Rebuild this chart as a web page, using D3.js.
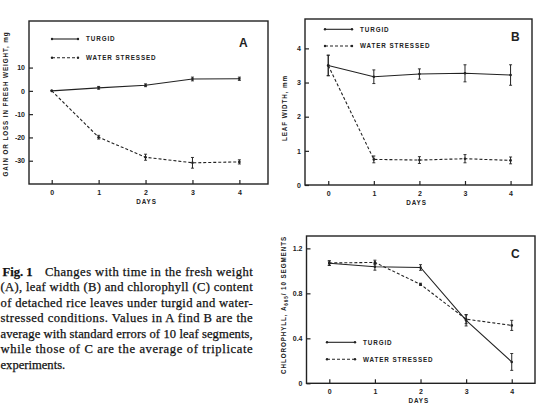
<!DOCTYPE html>
<html>
<head>
<meta charset="utf-8">
<script src="https://cdn.jsdelivr.net/npm/d3@7"></script>
<style>
  body { margin: 0; background: #fff; }
  svg { display: block; }
  .tick text { font-family: "Liberation Sans", Arial, sans-serif; font-weight: bold; font-size: 7px; fill: #222; }
  .lab { font-family: "Liberation Sans", Arial, sans-serif; font-weight: bold; font-size: 6.3px; fill: #222; letter-spacing: 0.9px; }
  .cap { font-family: "Liberation Serif", "Times New Roman", serif; font-size: 12.6px; fill: #111; stroke: #111; stroke-width: 0.25px; }
</style>
</head>
<body>
<div id="chart"></div>
<script>
// data
var days = [0, 1, 2, 3, 4];
var dayTicks = [0, 1, 2, 3, 4];

var weightTurgid = [0, 1.3, 2.4, 5.1, 5.2];
var weightTurgidErr = [0, 0.6, 0.6, 0.8, 0.7];
var weightStressed = [0, -19.9, -28.5, -30.9, -30.5];
var weightStressedErr = [0, 0.8, 1.3, 2.3, 0.9];
var weightTicks = [10, 0, -10, -20, -30];

var widthTurgid = [3.5, 3.17, 3.25, 3.27, 3.22];
var widthTurgidErr = [0.3, 0.2, 0.15, 0.25, 0.3];
var widthStressed = [3.5, 0.75, 0.73, 0.77, 0.72];
var widthStressedErr = [0.3, 0.1, 0.1, 0.12, 0.1];
var widthTicks = [0, 1, 2, 3, 4];

var chlTurgid = [1.068, 1.036, 1.03, 0.56, 0.19];
var chlTurgidErr = [0.02, 0.03, 0.025, 0.05, 0.075];
var chlStressed = [1.07, 1.075, 0.88, 0.57, 0.515];
var chlStressedErr = [0.02, 0.02, 0.01, 0.04, 0.045];
var chlTicks = [0, 0.4, 0.8, 1.2];

var captionLines = [
  "Changes with time in the fresh weight",
  "(A), leaf width (B) and chlorophyll (C) content",
  "of detached rice leaves under turgid and water-",
  "stressed conditions.   Values in A find B are the",
  "average with standard errors of 10 leaf segments,",
  "while those of C are the average of triplicate",
  "experiments."
];

var ink = '#222';
var W = 538, H = 410;

var svg = d3.select('#chart').append('svg')
    .attr('width', W)
    .attr('height', H);

function intFmt(d) { return d3.format('d')(d).replace('\u2212', '-'); }

function drawPanel(p) {
  var x = d3.scaleLinear().domain(p.xDomain).range([p.left, p.right]);
  var y = d3.scaleLinear().domain(p.yDomain).range([p.bottom, p.top]);
  var g = svg.append('g');

  // frame
  g.append('rect')
    .attr('x', p.left).attr('y', p.top)
    .attr('width', p.right - p.left).attr('height', p.bottom - p.top)
    .attr('fill', 'none').attr('stroke', ink).attr('stroke-width', 1.4);

  var yAxis = d3.axisLeft(y).tickValues(p.yTicks).tickSize(-4).tickSizeOuter(0)
      .tickPadding(4).tickFormat(p.yFormat || intFmt);
  var ya = g.append('g').attr('transform', 'translate(' + p.left + ',0)').call(yAxis);
  ya.select('.domain').remove();
  ya.selectAll('.tick line').attr('stroke', ink).attr('stroke-width', 1.2);

  var xAxis = d3.axisBottom(x).tickValues(dayTicks).tickSize(-4).tickSizeOuter(0)
      .tickPadding(6).tickFormat(intFmt);
  var xa = g.append('g').attr('transform', 'translate(0,' + p.bottom + ')').call(xAxis);
  xa.select('.domain').remove();
  xa.selectAll('.tick line').attr('stroke', ink).attr('stroke-width', 1.2);

  // axis titles
  g.append('text').attr('class', 'lab')
    .attr('x', (p.left + p.right) / 2 - 2).attr('y', p.bottom + 20)
    .attr('text-anchor', 'middle').text('DAYS');
  var yt = g.append('text').attr('class', 'lab')
    .attr('transform', 'translate(' + p.yTitleX + ',' + p.yTitleY + ') rotate(-90)')
    .attr('text-anchor', 'middle');
  p.yTitle(yt);

  // panel letter
  g.append('text')
    .attr('x', p.letterX).attr('y', p.letterY)
    .attr('font-family', 'Liberation Sans, Arial, sans-serif')
    .attr('font-weight', 'bold').attr('font-size', 12).attr('fill', ink)
    .text(p.letter);

  var line = d3.line().x(function(d, i) { return x(days[i]); }).y(function(d) { return y(d); });

  p.series.forEach(function(s) {
    g.append('path')
      .datum(s.values)
      .attr('d', line)
      .attr('fill', 'none').attr('stroke', ink).attr('stroke-width', 1.1)
      .attr('stroke-dasharray', s.dashed ? '3,2' : null);

    // error bars
    var pts = s.values.map(function(v, i) { return {day: days[i], v: v, e: s.err[i]}; })
      .filter(function(d) { return d.e > 0; });
    var eb = g.append('g').selectAll('g').data(pts).enter().append('g');
    eb.append('line')
      .attr('x1', function(d) { return x(d.day); }).attr('x2', function(d) { return x(d.day); })
      .attr('y1', function(d) { return y(d.v - d.e); }).attr('y2', function(d) { return y(d.v + d.e); })
      .attr('stroke', ink).attr('stroke-width', 1);
    [-1, 1].forEach(function(sign) {
      eb.append('line')
        .attr('x1', function(d) { return x(d.day) - 1.5; }).attr('x2', function(d) { return x(d.day) + 1.5; })
        .attr('y1', function(d) { return y(d.v + sign * d.e); }).attr('y2', function(d) { return y(d.v + sign * d.e); })
        .attr('stroke', ink).attr('stroke-width', 0.9);
    });

    g.append('g').selectAll('circle').data(s.values).enter().append('circle')
      .attr('cx', function(d, i) { return x(days[i]); })
      .attr('cy', function(d) { return y(d); })
      .attr('r', 1.3).attr('fill', ink);
  });

  // legend
  p.legend.forEach(function(l, i) {
    var ly = p.legY + i * p.legStep;
    g.append('line')
      .attr('x1', p.legX).attr('x2', p.legX + p.legLen)
      .attr('y1', ly).attr('y2', ly)
      .attr('stroke', ink).attr('stroke-width', 1.1)
      .attr('stroke-dasharray', l.dashed ? '3,2' : null);
    [p.legX, p.legX + p.legLen].forEach(function(cx) {
      g.append('circle').attr('cx', cx).attr('cy', ly).attr('r', 1.2).attr('fill', ink);
    });
    g.append('text').attr('class', 'lab')
      .attr('x', p.legX + p.legLen + 8).attr('y', ly + 2.3)
      .text(l.name);
  });
}

var legendItems = [{name: 'TURGID', dashed: false}, {name: 'WATER STRESSED', dashed: true}];

// A: fresh weight
drawPanel({
  left: 29, right: 268, top: 21, bottom: 184,
  xDomain: [-0.484, 4.61], yDomain: [-40, 30],
  yTicks: weightTicks,
  yTitleX: 8, yTitleY: 104,
  yTitle: function(t) { t.text('GAIN OR LOSS IN FRESH WEIGHT, mg'); },
  letter: 'A', letterX: 239, letterY: 47,
  series: [
    {values: weightTurgid, err: weightTurgidErr, dashed: false},
    {values: weightStressed, err: weightStressedErr, dashed: true}
  ],
  legend: legendItems, legX: 52, legY: 39, legStep: 18.7, legLen: 26
});

// B: leaf width
drawPanel({
  left: 305, right: 532, top: 19, bottom: 185,
  xDomain: [-0.51, 4.47], yDomain: [0, 4.86],
  yTicks: widthTicks,
  yTitleX: 287, yTitleY: 108,
  yTitle: function(t) { t.text('LEAF WIDTH, mm'); },
  letter: 'B', letterX: 511, letterY: 41,
  series: [
    {values: widthTurgid, err: widthTurgidErr, dashed: false},
    {values: widthStressed, err: widthStressedErr, dashed: true}
  ],
  legend: legendItems, legX: 325, legY: 29.3, legStep: 16.7, legLen: 27
});

// C: chlorophyll
drawPanel({
  left: 306.5, right: 535, top: 236, bottom: 383.3,
  xDomain: [-0.5, 4.51], yDomain: [0, 1.31],
  yTicks: chlTicks, yFormat: function(d) { return d === 0 ? '0' : d3.format('.1f')(d); },
  yTitleX: 286, yTitleY: 305,
  yTitle: function(t) {
    t.append('tspan').text('CHLOROPHYLL, A');
    t.append('tspan').attr('font-size', 4.6).attr('dy', 1.6).text('665');
    t.append('tspan').attr('dy', -1.6).text('/ 10 SEGMENTS');
  },
  letter: 'C', letterX: 511, letterY: 258,
  series: [
    {values: chlTurgid, err: chlTurgidErr, dashed: false},
    {values: chlStressed, err: chlStressedErr, dashed: true}
  ],
  legend: legendItems, legX: 327, legY: 342.3, legStep: 17, legLen: 28
});

// caption, justified line by line
var capRight = 252.7;
var cap = svg.append('g');
captionLines.forEach(function(txt, i) {
  var by = 275.5 + i * 15.55;
  if (i === 0) {
    cap.append('text').attr('class', 'cap').attr('x', 2.5).attr('y', by)
      .attr('font-weight', 'bold').text('Fig. 1');
    cap.append('text').attr('class', 'cap').attr('x', 45).attr('y', by)
      .attr('textLength', capRight - 45).attr('lengthAdjust', 'spacing')
      .text(txt);
  } else {
    var t = cap.append('text').attr('class', 'cap').attr('x', 0.5).attr('y', by).text(txt);
    if (i < captionLines.length - 1) {
      t.attr('textLength', capRight - 0.5).attr('lengthAdjust', 'spacing');
    }
  }
});
</script>
</body>
</html>
